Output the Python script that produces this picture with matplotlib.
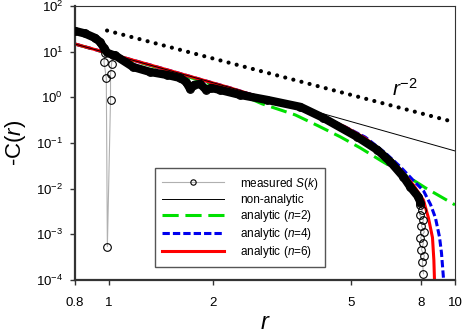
import numpy as np
import matplotlib
matplotlib.use('Agg')
import matplotlib.pyplot as plt
from matplotlib.ticker import NullLocator

plt.rcParams['font.family'] = ['Liberation Sans', 'DejaVu Sans']
plt.rcParams['mathtext.fontset'] = 'custom'
plt.rcParams['mathtext.rm'] = 'Liberation Sans'
plt.rcParams['mathtext.it'] = 'Liberation Sans:italic'

# measured -C(r): dense part (drawn as a band of overlapping circles)
r_band = [0.80, 0.855, 0.914, 0.945, 0.970, 0.992, 1.028, 1.044, 1.177, 1.318,
          1.476, 1.61, 1.674, 1.72, 1.766, 1.838, 1.914, 1.978, 2.10, 2.40,
          2.87, 3.58, 4.17, 5.22, 5.97, 6.51, 7.10, 7.43, 7.84, 7.95]
c_band = [28.4, 25.0, 20.0, 16.3, 12.0, 9.4, 8.5, 8.3, 4.62, 3.60,
          3.09, 2.66, 2.17, 1.52, 1.87, 1.97, 1.45, 1.61, 1.45, 1.13,
          0.877, 0.617, 0.354, 0.136, 0.0706, 0.0386, 0.0181, 0.0109, 0.0066, 0.0049]

# measured: scattered points near r = 1
r_near1 = [0.977, 0.970, 0.985, 0.992, 1.013, 1.013, 1.020]
c_near1 = [9.4, 5.96, 2.66, 5.4e-4, 0.88, 3.25, 5.4]

# measured: scattered tail near r = 8
r_tail = [7.95, 8.05, 7.90, 8.11, 8.00, 8.16, 7.95, 8.11, 8.00, 8.16, 8.05, 8.11]
c_tail = [0.00442, 0.00344, 0.00267, 0.00207, 0.00153, 0.00113,
          0.00084, 0.00065, 0.00046, 0.00034, 0.00025, 0.000137]

# non-analytic fit
r_non = [0.8, 2.244, 10.0]
c_non = [14.7, 1.64, 0.067]

# analytic n=2
r_n2 = [0.8, 1.0, 1.318, 1.72, 2.244, 2.777, 3.46, 4.03, 4.67, 5.33, 6.13, 7.10, 8.22, 10.0]
c_n2 = [14.7, 9.1, 4.99, 2.72, 1.45, 0.718, 0.412, 0.237, 0.136, 0.078, 0.0406, 0.0211, 0.0104, 0.00442]

# analytic n=4
r_n4 = [0.8, 1.0, 1.318, 1.72, 2.244, 2.777, 3.41, 4.17, 4.82, 5.51, 6.30, 6.96, 7.59,
        8.11, 8.50, 8.78, 9.02, 9.14, 9.26, 9.32]
c_n4 = [14.7, 9.2, 5.12, 2.87, 1.61, 0.97, 0.617, 0.372, 0.225, 0.134, 0.0600, 0.0300, 0.0150,
        0.0090, 0.00450, 0.00230, 0.00088, 0.000394, 0.000112, 4e-5]

# analytic n=6
r_n6 = [0.8, 1.0, 1.318, 1.72, 2.244, 2.777, 3.41, 4.17, 4.82, 5.51, 6.30, 6.96, 7.59,
        8.11, 8.38, 8.61, 8.69, 8.75]
c_n6 = [14.7, 9.2, 5.12, 2.87, 1.61, 0.97, 0.617, 0.372, 0.225, 0.127, 0.0560, 0.0260, 0.0120,
        0.00560, 0.00230, 0.00085, 0.000270, 5e-5]

# r^-2 guide
r_guide = [0.99, 10.0]
c_guide = [29.0, 0.284]

xticks = [0.8, 1, 2, 5, 8, 10]
xticklabels = ['0.8', '1', '2', '5', '8', '10']
yticks = [1e-4, 1e-3, 1e-2, 1e-1, 1e0, 1e1, 1e2]
yticklabels = [r'$\mathregular{10^{%d}}$' % e for e in range(-4, 3)]

fig = plt.figure(figsize=(4.63, 3.33), dpi=100)
ax = fig.add_axes([75 / 463, 53 / 333, 380 / 463, 274 / 333])
ax.set_xscale('log')
ax.set_yscale('log')

h2, = ax.plot(r_n2, c_n2, color='#00e000', lw=2.2, dashes=(5.3, 2.2), label='analytic ($n$=2)')
h4, = ax.plot(r_n4, c_n4, color='#0000ee', lw=2.2, dashes=(2.4, 1.0), label='analytic ($n$=4)')
h6, = ax.plot(r_n6, c_n6, color='#ff0000', lw=2.2, label='analytic ($n$=6)')
hn, = ax.plot(r_non, c_non, color='black', lw=0.7, label='non-analytic')
ax.plot(r_guide, c_guide, color='black', lw=3.0, linestyle=(0, (0.01, 2.0)),
        dash_capstyle='round')

# measured: thin grey connecting line with open circles, dense part on top
r_meas = r_band[:5] + r_near1 + r_band[6:] + r_tail
c_meas = c_band[:5] + c_near1 + c_band[6:] + c_tail
hm, = ax.plot(r_meas, c_meas, color='#b0b0b0', lw=0.8, marker='o', mfc='none',
              mec='black', ms=5.5, mew=0.8, zorder=4, label='measured $S$($k$)')
ax.plot(r_band, c_band, color='black', lw=6.0, solid_capstyle='round', zorder=5)

ax.text(6.6, 1.07, r'$r^{\mathregular{-2}}$', fontsize=15, ha='left', va='baseline')

ax.set_xlim(0.8, 10)
ax.set_ylim(1e-4, 1e2)
ax.set_xticks(xticks)
ax.set_xticklabels(xticklabels)
ax.set_yticks(yticks)
ax.set_yticklabels(yticklabels)
ax.xaxis.set_minor_locator(NullLocator())
ax.yaxis.set_minor_locator(NullLocator())
ax.tick_params(axis='both', labelsize=9.5, length=3.5, width=1, color='#333333')
ax.tick_params(axis='x', pad=9)
ax.tick_params(axis='y', pad=5)

for side in ['left', 'bottom']:
    ax.spines[side].set_linewidth(1.6)
    ax.spines[side].set_color('#333333')
for side in ['top', 'right']:
    ax.spines[side].set_linewidth(0.8)
    ax.spines[side].set_color('#333333')

ax.set_xlabel('$r$', fontsize=17, labelpad=2)
ax.set_ylabel('-C($r$)', fontsize=16, labelpad=6)

leg = ax.legend(handles=[hm, hn, h2, h4, h6], loc='lower left',
                bbox_to_anchor=(0.21, 0.047), borderaxespad=0, fontsize=8.5,
                handlelength=5.3, handletextpad=1.3, labelspacing=0.18,
                markerscale=0.7, fancybox=False, framealpha=1, borderpad=0.6)
leg.get_frame().set_edgecolor('#555555')
leg.get_frame().set_linewidth(1.0)

fig.savefig('out.png', dpi=100)
